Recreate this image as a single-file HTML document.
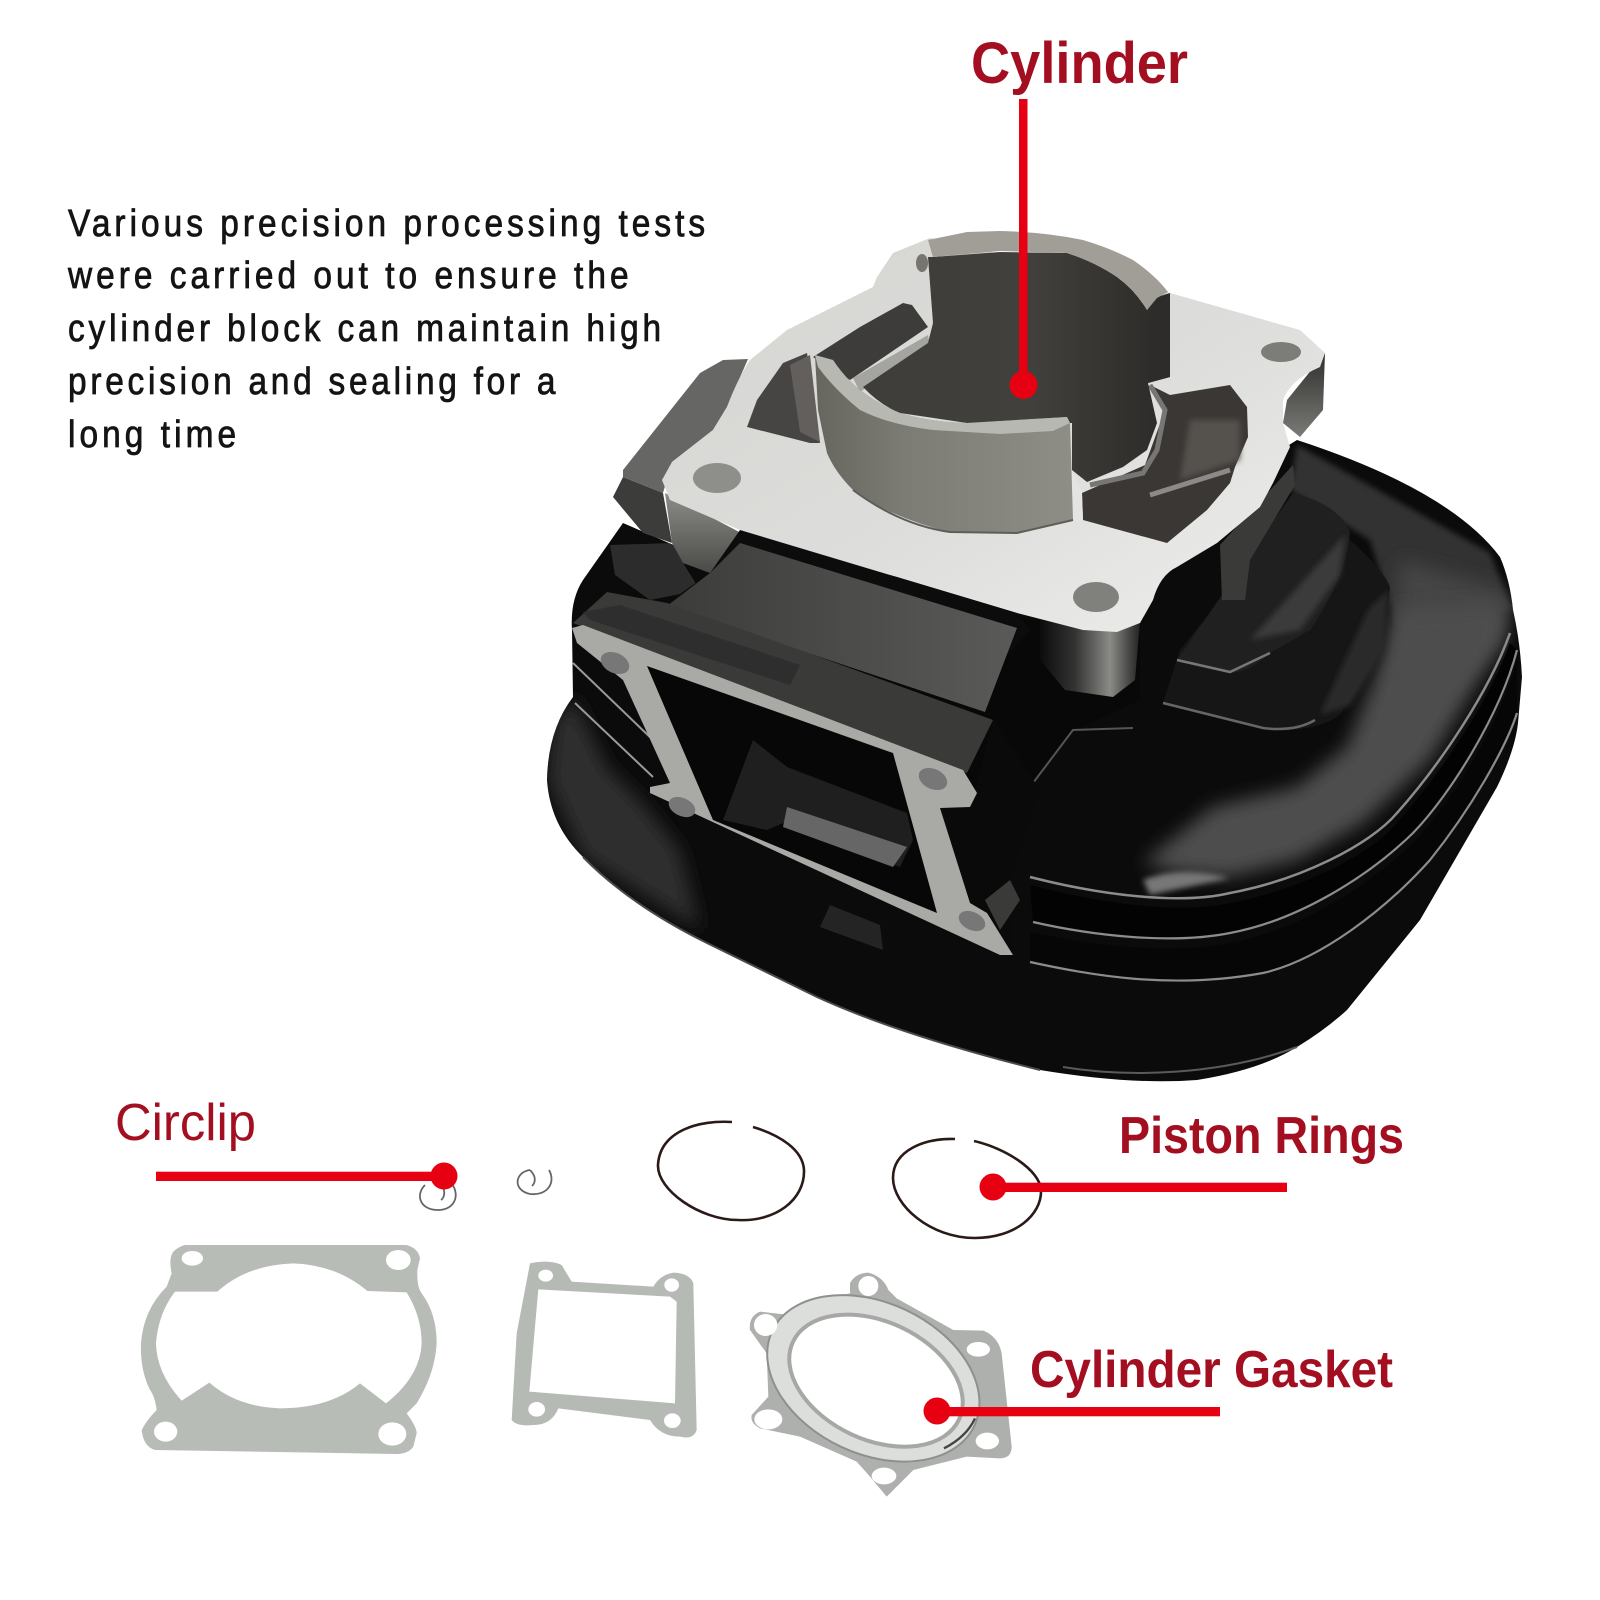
<!DOCTYPE html>
<html><head><meta charset="utf-8"><style>html,body{margin:0;padding:0;background:#fff}svg{display:block}</style></head>
<body>
<svg width="1600" height="1600" viewBox="0 0 1600 1600" xmlns="http://www.w3.org/2000/svg">
<defs>
<clipPath id="fc"><path d="M623,523 L583,580 Q570,600 572,630 L573,697 Q548,730 547,780 Q550,825 583,857 Q630,905 707,943 L817,997 Q900,1035 1040,1070 Q1130,1085 1197,1080 Q1260,1070 1297,1047 Q1325,1030 1347,1010 L1420,920 L1497,787 Q1515,750 1518,723 L1522,677 Q1520,640 1513,610 Q1510,580 1500,557 Q1450,490 1297,440 L1200,500 L800,600 Z"/></clipPath>
<filter id="b3" x="-20%" y="-20%" width="140%" height="140%"><feGaussianBlur stdDeviation="3"/></filter>
<filter id="b8" x="-30%" y="-30%" width="160%" height="160%"><feGaussianBlur stdDeviation="9"/></filter>
<linearGradient id="sl" x1="0" y1="0" x2="1" y2="0"><stop offset="0" stop-color="#66665f"/><stop offset=".35" stop-color="#7c7c74"/><stop offset="1" stop-color="#8e8e86"/></linearGradient>
<linearGradient id="bo" x1="0" y1="0" x2="1" y2="0"><stop offset="0" stop-color="#3f3d3a"/><stop offset=".55" stop-color="#42403c"/><stop offset="1" stop-color="#2b2a28"/></linearGradient>
<linearGradient id="de" x1="0" y1="0" x2="1" y2="1"><stop offset="0" stop-color="#d4d4d1"/><stop offset=".55" stop-color="#dddddb"/><stop offset="1" stop-color="#efefed"/></linearGradient>
<linearGradient id="fl" x1="0" y1="0" x2="0" y2="1"><stop offset="0" stop-color="#8c8c88"/><stop offset="1" stop-color="#4a4a46"/></linearGradient>
<linearGradient id="ff" x1="0" y1="0" x2="1" y2="0"><stop offset="0" stop-color="#0c0c0c"/><stop offset=".35" stop-color="#333"/><stop offset=".7" stop-color="#8a8a86"/><stop offset="1" stop-color="#222"/></linearGradient>
<linearGradient id="fr" x1="0" y1="0" x2="0" y2="1"><stop offset="0" stop-color="#2f2f2d"/><stop offset="1" stop-color="#7a7a76"/></linearGradient>
<linearGradient id="ig" x1="0" y1="0" x2="1" y2="0"><stop offset="0" stop-color="#3c3c3a"/><stop offset="1" stop-color="#5a5a58"/></linearGradient>
</defs>
<rect width="1600" height="1600" fill="#fff"/>

<!-- flange silhouette -->
<path d="M623,523 L583,580 Q570,600 572,630 L573,697 Q548,730 547,780 Q550,825 583,857 Q630,905 707,943 L817,997 Q900,1035 1040,1070 Q1130,1085 1197,1080 Q1260,1070 1297,1047 Q1325,1030 1347,1010 L1420,920 L1497,787 Q1515,750 1518,723 L1522,677 Q1520,640 1513,610 Q1510,580 1500,557 Q1450,490 1297,440 L1200,500 L800,600 Z" fill="#0b0b0b"/>
<g clip-path="url(#fc)">
<!-- left lit flange -->
<path d="M547,780 L553,723 L573,697 L607,767 L640,800 L680,850 L700,930 L583,857 Z" fill="#2e2e2e" filter="url(#b8)"/>
<!-- back surface of flange -->
<path d="M1297,445 L1490,553 L1512,610 L1397,625 L1370,540 L1290,490 Z" fill="#333" filter="url(#b3)"/>
<path d="M1400,560 L1505,590 L1500,640 L1420,720 L1390,680 Z" fill="#444" filter="url(#b8)"/>
<!-- glossy top fin -->
<path d="M1143,863 L1213,807 L1297,787 L1347,747 L1383,657 L1397,610 L1510,603 L1503,640 L1430,760 L1363,823 L1297,860 L1230,877 L1180,873 Z" fill="#4d4d4d" filter="url(#b8)"/>
<path d="M1143,880 Q1180,865 1230,878 L1150,895 Z" fill="#777" filter="url(#b3)"/>
</g>
<path d="M583,857 Q630,905 707,943 L817,997 Q900,1035 1040,1070" fill="none" stroke="#4a4a4a" stroke-width="2"/>
<path d="M573,663 L653,740 M575,703 L653,777" fill="none" stroke="#9a9a9a" stroke-width="2"/>
<!-- fin lines -->
<path d="M1030,885 C1100,903 1180,915 1230,903 C1300,890 1370,855 1397,823 C1440,775 1490,700 1510,643 L1517,650 C1500,715 1450,795 1413,833 C1370,875 1300,920 1230,933 C1170,945 1090,935 1033,922 Z" fill="#030303"/>
<path d="M1030,932 C1090,945 1170,955 1230,943 C1300,930 1370,885 1413,843 C1450,805 1500,725 1517,660 L1517,713 C1505,750 1470,810 1430,860 C1385,910 1320,960 1263,973 C1170,990 1090,975 1030,962 Z" fill="#060606"/>
<g fill="none" stroke="#8c8c8c">
<path d="M1030,877 C1100,895 1180,905 1230,893 C1300,880 1370,845 1397,813 C1440,765 1490,690 1510,633" stroke-width="2.5"/>
<path d="M1033,922 C1090,935 1170,945 1230,933 C1300,920 1370,875 1413,833 C1450,795 1500,715 1517,650" stroke-width="2.2"/>
<path d="M1030,962 C1090,975 1170,990 1263,973 C1320,960 1385,910 1430,860 C1470,810 1505,750 1517,713" stroke-width="2.2"/>
<path d="M1063,1067 C1130,1078 1220,1075 1297,1047" stroke="#5a5a5a" stroke-width="2"/>
</g>
<!-- right pads -->
<path d="M1163,703 L1180,650 L1300,500 Q1380,560 1390,587 Q1385,640 1367,677 L1340,715 Q1310,735 1263,728 Z" fill="#161616"/>
<path d="M1368,610 L1388,590 L1385,650 L1350,705 L1320,715 Z" fill="#2a2a2a" filter="url(#b3)"/>
<path d="M1163,703 L1263,728 Q1295,732 1315,720" fill="none" stroke="#666" stroke-width="2.5"/>
<path d="M1177,660 L1260,540 L1293,493 Q1340,505 1350,533 Q1345,580 1310,630 L1270,653 Q1245,675 1230,672 L1177,660 Z" fill="#202020"/>
<path d="M1250,640 L1345,535 L1340,575 L1300,630 Z" fill="#3a3a3a" filter="url(#b3)"/>
<path d="M1177,660 L1230,672 L1270,653" fill="none" stroke="#777" stroke-width="2.5"/>
<path d="M1220,545 L1293,465 L1295,485 L1250,560 L1245,600 L1222,600 Z" fill="#3a3a38"/>

<!-- black below deck -->
<path d="M700,530 L1030,620 L1140,620 L1140,700 L1075,730 L1030,787 L1000,900 L960,760 Z" fill="#080808"/>
<path d="M1030,787 L1073,730 L1133,728" fill="none" stroke="#555" stroke-width="2"/>
<!-- pads left -->
<path d="M613,497 L623,477 L663,493 L672,543 L643,533 Z" fill="#3c3c3a"/>
<path d="M623,470 L700,373 L723,360 L748,359 L727,407 L713,430 L672,462 L663,493 L623,477 Z" fill="#666664"/>
<path d="M610,545 L672,543 L683,563 L700,590 L650,600 L615,575 Z" fill="#2c2c2c" clip-path="url(#fc)"/>

<!-- deck side faces -->
<path d="M665,493 L672,543 L683,563 L710,573 L745,535 Z" fill="url(#fl)"/>
<path d="M1040,620 L1140,622 L1135,680 L1113,697 L1065,690 L1040,660 Z" fill="url(#ff)"/>
<path d="M1287,400 L1325,353 L1323,410 L1300,437 L1283,423 Z" fill="url(#fr)"/>

<!-- deck -->
<path d="M662,480 L672,462 L713,430 L727,407 Q737,380 750,360 L787,330 L873,287 L877,277 L893,253 L930,238 L1170,293 L1300,330 L1325,353 L1320,367 Q1290,380 1283,400 L1283,423 L1290,447 L1273,483 L1260,507 L1217,543 L1177,567 Q1160,575 1153,600 L1140,623 L1117,632 L1083,630 L1017,613 L740,530 L670,500 Z" fill="url(#de)"/>

<!-- ports -->
<path d="M747,427 L757,400 L783,363 L807,353 L820,443 L810,443 Z" fill="#464543"/>
<path d="M790,365 L810,355 L820,442 L800,432 Z" fill="#625f5c"/>
<path d="M813,357 L860,327 L903,303 L912,305 L928,327 L850,380 Z" fill="#3e3c3a"/>
<path d="M853,378 L928,335 L930,345 L860,392 Z" fill="#a4a4a0"/>
<path d="M1170,395 L1230,385 L1247,407 L1248,437 L1235,467 L1230,483 L1207,510 L1167,543 L1083,520 L1082,493 L1145,465 L1165,410 L1150,385 Z" fill="#3a3735"/>
<path d="M1190,420 L1240,420 L1240,460 L1180,480 Z" fill="#55514e" filter="url(#b3)"/>
<path d="M1150,385 L1165,410 L1157,450 L1143,473 L1090,485" fill="none" stroke="#787674" stroke-width="5"/>
<path d="M1150,495 L1230,470" fill="none" stroke="#8c8a88" stroke-width="5"/>
<path d="M1072,470 L1082,493 L1083,520 L1073,522 Z" fill="#e4e4e2"/>

<!-- bore -->
<path d="M928,257 L933,323 L928,343 L863,387 Q880,405 900,413 L967,423 L1072,423 L1072,470 L1087,482 L1123,467 L1147,450 L1157,423 L1148,383 L1170,377 L1170,293 L1157,297 L1147,310 Q1135,290 1117,277 Q1095,262 1067,253 L1000,252 L933,257 Z" fill="url(#bo)"/>
<path d="M1148,320 L1170,293 L1170,377 L1148,383 Z" fill="#2d2c2a"/>
<path d="M928,240 L967,232 L1000,231 Q1045,232 1083,240 Q1110,248 1133,260 Q1155,275 1168,292 L1157,298 L1147,310 Q1135,290 1117,277 Q1095,262 1067,253 L1000,251 L933,257 Z" fill="#a09e96"/>
<ellipse cx="922" cy="263" rx="6" ry="9" fill="#77756f"/>

<!-- sleeve -->
<path d="M815,355 L833,360 Q845,378 860,390 Q880,405 900,413 Q930,422 967,423 L1067,417 L1070,423 L1073,520 L1017,533 L950,532 Q920,525 893,513 Q870,503 853,490 Q835,472 827,453 L818,410 Z" fill="url(#sl)"/>
<path d="M815,355 L833,360 Q845,378 860,390 Q880,405 900,413 Q930,422 967,423 L1067,417 L1070,423 L1053,431 L1000,434 L933,430 Q890,425 860,410 Q835,390 818,367 Z" fill="#b8b8b2"/>
<path d="M853,490 Q900,525 950,532 L1017,533 L1073,520" fill="none" stroke="#5e5e58" stroke-width="2"/>

<!-- holes -->
<ellipse cx="717" cy="478" rx="24" ry="15" fill="#8e8e8a"/>
<ellipse cx="1281" cy="352" rx="20" ry="10" fill="#7c7c78"/>
<ellipse cx="1096" cy="597" rx="23" ry="15" fill="#80807c"/>

<!-- intake -->
<path d="M740,530 L1017,613 L1030,630 L967,700 L667,603 L710,573 Z" fill="#0c0c0c"/>
<path d="M740,543 L1017,628 L985,712 L667,606 L710,573 Z" fill="url(#ig)"/>
<path d="M573,623 L607,592 L667,603 L800,650 L993,720 L967,773 L900,750 Z" fill="#3a3a39"/>
<path d="M583,612 L620,605 L800,665 L790,685 L590,620 Z" fill="#2e2e2e"/>
<path d="M993,720 L1040,790 L1010,880 L1013,955 L970,905 L945,810 L975,790 Z" fill="#0a0a0a"/>

<path d="M647,666 L893,753 L937,913 L713,820 Z" fill="#070707"/>
<path d="M723,820 L753,740 L787,767 L907,813 L913,840 L900,867 L783,823 L767,830 Z" fill="#1f1f1f"/>
<path d="M787,807 L907,847 L893,867 L783,827 Z" fill="#666"/>
<path fill-rule="evenodd" fill="#a9a9a5" d="M572,628 L583,625 L963,770 L977,793 L970,807 L940,808 L970,903 L987,913 L1013,955 L1000,955 L650,793 L650,787 L670,783 L623,680 L577,643 Z M647,666 L713,820 L937,913 L893,753 Z"/>
<g fill="#777">
<ellipse cx="615" cy="663" rx="15" ry="10" transform="rotate(25 615 663)"/>
<ellipse cx="933" cy="779" rx="15" ry="10" transform="rotate(25 933 779)"/>
<ellipse cx="682" cy="807" rx="14" ry="9" transform="rotate(25 682 807)"/>
<ellipse cx="972" cy="921" rx="14" ry="9" transform="rotate(25 972 921)"/>
</g>
<path d="M820,927 L883,950 L880,925 L830,905 Z" fill="#242424"/>
<path d="M985,900 L1010,880 L1020,900 L1000,930 Z" fill="#3a3a38"/>

<!-- gasket 1 -->
<g transform="translate(130 1230) scale(.33333)">
<path fill="#b8bcb6" fill-rule="evenodd" d="M165,45 L830,45 Q865,55 870,85 L862,120 Q860,170 875,190 Q920,250 920,340 Q915,430 860,520 L830,550 Q860,590 860,610 L850,650 Q835,672 800,672 L75,660 Q40,650 35,600 Q50,570 80,540 Q75,500 60,480 Q30,420 33,340 Q40,240 110,170 L125,130 Q115,85 130,65 Q145,50 165,45Z M135,185 Q85,250 78,340 Q80,430 155,512 L238,458 Q320,530 450,535 Q600,535 690,460 L768,520 Q870,440 875,340 Q875,260 830,187 L712,183 Q620,105 490,100 Q350,105 262,185Z"/>
<ellipse cx="187" cy="85" rx="32" ry="22" fill="#fff"/>
<ellipse cx="805" cy="90" rx="37" ry="30" fill="#fff"/>
<ellipse cx="107" cy="605" rx="35" ry="30" fill="#fff"/>
<ellipse cx="787" cy="612" rx="42" ry="35" fill="#fff"/>
</g>
<!-- gasket 2 -->
<g transform="translate(500 1250) scale(.33333)">
<path fill="#b6bab5" fill-rule="evenodd" d="M90,40 Q150,28 185,45 L215,95 L460,110 Q480,75 520,68 Q570,70 580,100 L590,540 Q580,570 540,560 Q480,560 450,510 L175,475 Q155,525 100,525 Q50,530 35,510 L50,250 Z M115,118 L105,230 L88,425 L525,460 L530,155 L510,140Z"/>
<ellipse cx="137" cy="77" rx="22" ry="18" fill="#fff"/>
<ellipse cx="515" cy="105" rx="22" ry="20" fill="#fff"/>
<ellipse cx="110" cy="478" rx="25" ry="22" fill="#fff"/>
<ellipse cx="517" cy="512" rx="25" ry="22" fill="#fff"/>
</g>
<!-- gasket 3 -->
<g transform="translate(740 1260) scale(.33333)">
<path fill="#aeb0ad" d="M330,70 Q345,40 385,38 Q430,50 445,90 L470,115 L640,210 L730,212 Q775,230 785,280 L815,560 Q815,595 780,595 L680,590 L520,630 L480,670 L440,710 L390,650 L350,605 L180,530 L60,505 Q30,490 35,465 L85,410 L80,280 L30,210 Q25,170 60,155 L150,165 Q220,120 330,100Z"/>
<ellipse cx="400" cy="355" rx="335" ry="227" transform="rotate(25 400 355)" fill="#dcdedb" stroke="#8e908d" stroke-width="6"/>
<ellipse cx="408" cy="362" rx="275" ry="177" transform="rotate(25 408 362)" fill="#fff" stroke="#a6a8a5" stroke-width="12"/>
<g fill="#fff">
<ellipse cx="385" cy="78" rx="30" ry="30"/>
<ellipse cx="77" cy="195" rx="35" ry="33"/>
<ellipse cx="715" cy="268" rx="35" ry="22"/>
<ellipse cx="85" cy="478" rx="42" ry="30"/>
<ellipse cx="742" cy="543" rx="35" ry="25"/>
<ellipse cx="432" cy="648" rx="37" ry="25"/>
</g>
<path d="M612,565 Q680,530 705,475" fill="none" stroke="#444" stroke-width="7"/>
</g>

<!-- rings -->
<g fill="none">
<path d="M732,1122 C700,1120 660,1130 658,1165 C657,1190 700,1220 738,1220 C775,1222 805,1200 804,1170 C803,1150 780,1135 753,1127" stroke="#2a1a18" stroke-width="2.6"/>
<path d="M955,1139 C925,1138 893,1150 893,1178 C893,1205 930,1238 975,1238 C1015,1238 1042,1215 1041,1190 C1040,1170 1005,1148 974,1141" stroke="#2a1a18" stroke-width="2.6"/>
<path d="M425,1185 C415,1195 420,1210 438,1210 C455,1210 460,1195 452,1184 M442,1185 C446,1192 444,1198 441,1200" stroke="#666" stroke-width="1.8"/>
<path d="M530,1170 C515,1172 512,1190 530,1194 C548,1196 556,1182 549,1170 M530,1170 C536,1176 536,1182 532,1186" stroke="#666" stroke-width="1.8"/>
</g>

<!-- callouts -->
<g fill="#e60012">
<rect x="1019" y="99" width="8.5" height="285"/><circle cx="1023.5" cy="385" r="14"/>
<rect x="156" y="1171.7" width="288" height="9.3"/><circle cx="444" cy="1176" r="13.5"/>
<rect x="993" y="1182.7" width="294" height="9.3"/><circle cx="993" cy="1187" r="13.5"/>
<rect x="937" y="1407" width="283" height="9.3"/><circle cx="937" cy="1411" r="13.5"/>
</g>

<!-- labels -->
<g font-family="'Liberation Sans',sans-serif" fill="#a30f20">
<text x="971" y="83" font-size="58" font-weight="700" textLength="217" lengthAdjust="spacingAndGlyphs">Cylinder</text>
<text x="115" y="1140" font-size="52" textLength="141" lengthAdjust="spacingAndGlyphs">Circlip</text>
<text x="1119" y="1153" font-size="52" font-weight="700" textLength="285" lengthAdjust="spacingAndGlyphs">Piston Rings</text>
<text x="1030" y="1387" font-size="52" font-weight="700" textLength="363" lengthAdjust="spacingAndGlyphs">Cylinder Gasket</text>
</g>
<g font-family="'Liberation Sans',sans-serif" fill="#141414" font-size="38" stroke="#141414" stroke-width=".8">
<text transform="translate(68 236) scale(.88 1)" textLength="724" lengthAdjust="spacing">Various precision processing tests</text>
<text transform="translate(68 288) scale(.88 1)" textLength="637" lengthAdjust="spacing">were carried out to ensure the</text>
<text transform="translate(68 341) scale(.88 1)" textLength="674" lengthAdjust="spacing">cylinder block can maintain high</text>
<text transform="translate(68 394) scale(.88 1)" textLength="554" lengthAdjust="spacing">precision and sealing for a</text>
<text transform="translate(68 447) scale(.88 1)" textLength="191" lengthAdjust="spacing">long time</text>
</g>
</svg>
</body></html>
